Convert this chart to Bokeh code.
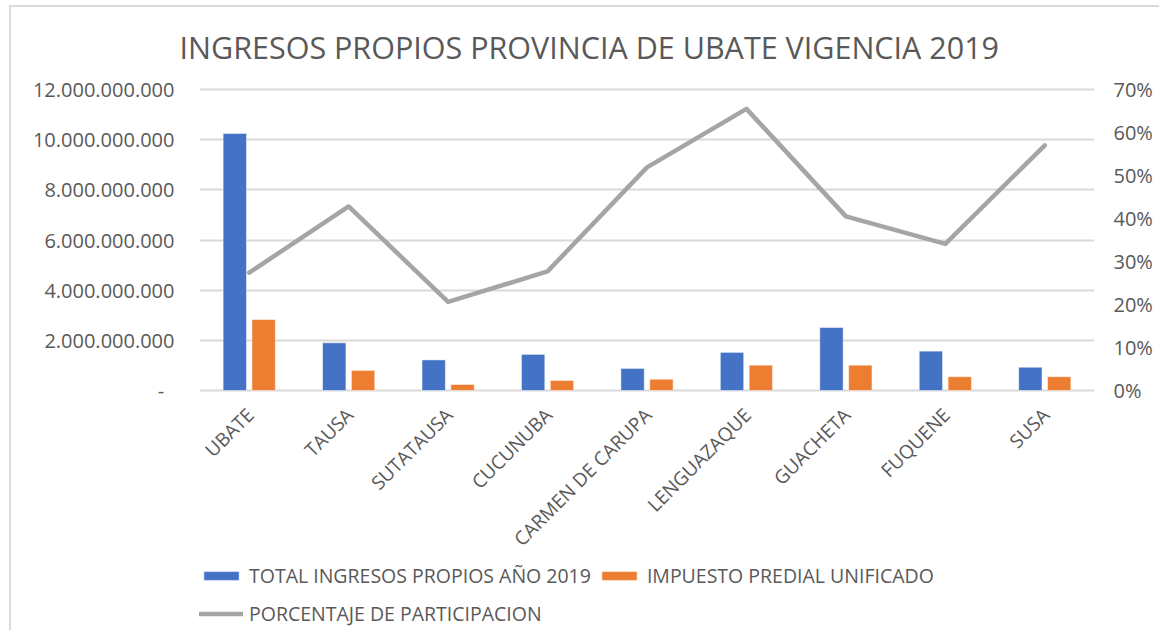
import math
from bokeh.plotting import figure
from bokeh.models import (Range1d, FixedTicker, Legend, LegendItem, LinearAxis,
                          Title, FactorRange, ColumnDataSource)
from bokeh.core.properties import value
from bokeh.transform import dodge
from bokeh.embed import file_html
from bokeh.resources import INLINE

categories = ["UBATE", "TAUSA", "SUTATAUSA", "CUCUNUBA", "CARMEN DE CARUPA",
              "LENGUAZAQUE", "GUACHETA", "FUQUENE", "SUSA"]
total_ingresos = [10.25e9, 1.90e9, 1.22e9, 1.44e9, 0.88e9, 1.52e9, 2.51e9, 1.57e9, 0.93e9]
impuesto_predial = [2.83e9, 0.80e9, 0.24e9, 0.40e9, 0.45e9, 1.01e9, 1.01e9, 0.55e9, 0.55e9]
porcentaje = [0.274, 0.428, 0.206, 0.277, 0.519, 0.655, 0.405, 0.341, 0.570]

left_ticks = [0, 2e9, 4e9, 6e9, 8e9, 10e9, 12e9]
left_tick_labels = ["-\u00a0\u00a0", "2.000.000.000", "4.000.000.000", "6.000.000.000",
                    "8.000.000.000", "10.000.000.000", "12.000.000.000"]
right_ticks = [0, 0.1, 0.2, 0.3, 0.4, 0.5, 0.6, 0.7]
right_tick_labels = ["0%", "10%", "20%", "30%", "40%", "50%", "60%", "70%"]

title_text = "INGRESOS PROPIOS PROVINCIA DE UBATE VIGENCIA 2019"
legend_labels = ["TOTAL INGRESOS PROPIOS AÑO 2019", "IMPUESTO PREDIAL UNIFICADO",
                 "PORCENTAJE DE PARTICIPACION"]

FONT = "Open Sans"
TXT = "#595959"
GRID = "#d9d9d9"

# layout (canvas pixels)
W, H = 1150, 625
FRAME_L, FRAME_R, FRAME_T = 188, 1083, 70
Y_TOP_TICK, Y_ZERO = 82, 383           # pixel rows of 12.000.000.000 and 0
LEFT_MAX, RIGHT_MAX = 12e9, 0.7
px = (Y_ZERO - Y_TOP_TICK)
y_end = LEFT_MAX * (Y_ZERO - FRAME_T) / px
y_start = -LEFT_MAX * (H - Y_ZERO) / px
r_end = RIGHT_MAX * (Y_ZERO - FRAME_T) / px
r_start = -RIGHT_MAX * (H - Y_ZERO) / px

src = ColumnDataSource(dict(cat=categories, total=total_ingresos,
                            predial=impuesto_predial, pct=porcentaje,
                            zero=[0] * len(categories)))

p = figure(width=W, height=H, x_range=FactorRange(*categories),
           y_range=Range1d(y_start, y_end), output_backend="svg",
           toolbar_location=None, x_axis_location=None,
           min_border_left=FRAME_L, min_border_right=W - FRAME_R,
           min_border_top=FRAME_T, min_border_bottom=0)
p.extra_y_ranges = {"pct": Range1d(r_start, r_end)}
p.outline_line_color = None
p.styles = {"margin-left": "9px", "margin-top": "5px",
            "border-left": "2px solid #d9d9d9", "border-top": "2px solid #d9d9d9"}

p.title = Title(text=title_text, align="left", offset=-20, standoff=20,
                text_font=FONT, text_font_size="30.5px", text_color=TXT,
                text_font_style="normal")

r1 = p.vbar(x=dodge("cat", -0.145, range=p.x_range), top="total", width=0.235,
            source=src, color="#4472c4", line_color="white", line_width=0.5)
r2 = p.vbar(x=dodge("cat", 0.145, range=p.x_range), top="predial", width=0.235,
            source=src, color="#ed7d31", line_color="white", line_width=0.5)
r3 = p.line(x="cat", y="pct", source=src, y_range_name="pct", color="#a5a5a5",
            line_width=4.5, line_join="round", line_cap="round")

# category labels (rotated)
p.text(x="cat", y="zero", text="cat", source=src, angle=math.pi / 4,
       x_offset=1, y_offset=21, text_align="right", text_baseline="middle",
       text_font=value(FONT), text_font_size="19px", text_color=TXT)

# left axis
ya = p.yaxis[0]
ya.ticker = FixedTicker(ticks=left_ticks)
ya.major_label_overrides = {t: l for t, l in zip(left_ticks, left_tick_labels)}
ya.axis_line_color = None
ya.major_tick_line_color = None
ya.minor_tick_line_color = None
ya.major_label_text_font = FONT
ya.major_label_text_font_size = "20px"
ya.major_label_text_color = TXT
ya.major_label_standoff = 19

# right axis
ra = LinearAxis(y_range_name="pct", ticker=FixedTicker(ticks=right_ticks))
ra.major_label_overrides = {t: l for t, l in zip(right_ticks, right_tick_labels)}
ra.axis_line_color = None
ra.major_tick_line_color = None
ra.minor_tick_line_color = None
ra.major_label_text_font = FONT
ra.major_label_text_font_size = "20px"
ra.major_label_text_color = TXT
ra.major_label_standoff = 13
p.add_layout(ra, "right")

p.xgrid.grid_line_color = None
p.ygrid.ticker = FixedTicker(ticks=left_ticks)
p.ygrid.grid_line_color = GRID
p.ygrid.grid_line_width = 2

# legends
common = dict(border_line_color=None, background_fill_alpha=0, padding=0, margin=0,
              label_text_font=FONT, label_text_font_size="19.5px", label_text_color=TXT,
              glyph_width=44, glyph_height=11, label_standoff=6, label_height=26)
lg1 = Legend(items=[LegendItem(label=legend_labels[0], renderers=[r1]),
                    LegendItem(label=legend_labels[1], renderers=[r2])],
             orientation="horizontal", spacing=6, location=(0, 43), **common)
lg2 = Legend(items=[LegendItem(label=legend_labels[2], renderers=[r3])],
             orientation="horizontal", location=(0, 5), **common)
p.add_layout(lg1, "center")
p.add_layout(lg2, "center")

open("out.html", "w").write(file_html(p, INLINE))
